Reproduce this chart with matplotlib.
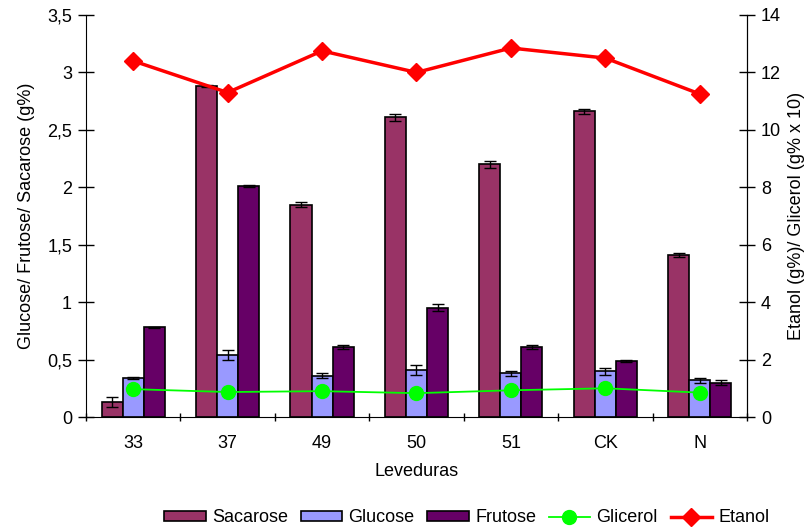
import matplotlib.pyplot as plt
import numpy as np
from matplotlib.ticker import FuncFormatter, MultipleLocator

plt.rcParams['font.family'] = ['Liberation Sans', 'DejaVu Sans']

leveduras = ['33', '37', '49', '50', '51', 'CK', 'N']
sacarose = [0.13, 2.88, 1.85, 2.61, 2.20, 2.66, 1.41]
sacarose_err = [0.04, 0.01, 0.02, 0.03, 0.03, 0.02, 0.02]
glucose = [0.34, 0.54, 0.36, 0.41, 0.38, 0.40, 0.32]
glucose_err = [0.01, 0.04, 0.02, 0.04, 0.02, 0.03, 0.02]
frutose = [0.78, 2.01, 0.61, 0.95, 0.61, 0.49, 0.30]
frutose_err = [0.005, 0.01, 0.02, 0.03, 0.02, 0.01, 0.02]
glicerol = [0.97, 0.87, 0.90, 0.83, 0.93, 1.00, 0.85]
etanol = [12.4, 11.3, 12.75, 12.0, 12.85, 12.5, 11.25]

fig = plt.figure(figsize=(8.09, 5.30), dpi=100)
ax = fig.add_axes([0.1063, 0.2132, 0.817, 0.7585])
ax2 = ax.twinx()

x = np.arange(len(leveduras))
w = 0.223
bars = []
for off, vals, err, col, lab in [(-w, sacarose, sacarose_err, '#993366', 'Sacarose'),
                                 (0, glucose, glucose_err, '#9999FF', 'Glucose'),
                                 (w, frutose, frutose_err, '#660066', 'Frutose')]:
    b = ax.bar(x + off, vals, w, color=col, edgecolor='black', linewidth=1.2,
               yerr=err, capsize=4, error_kw=dict(ecolor='black', elinewidth=1, capthick=1),
               label=lab, zorder=2)
    bars.append(b)

l1, = ax2.plot(x, glicerol, color='#00FF00', lw=1.3, marker='o', ms=10,
               label='Glicerol', zorder=3)
l2, = ax2.plot(x, etanol, color='#FF0000', lw=2.5, marker='D', ms=9,
               label='Etanol', zorder=3)

ax.set_xlim(-0.5, len(leveduras) - 0.5)
ax.set_ylim(0, 3.5)
ax2.set_ylim(0, 14)
ax.yaxis.set_major_locator(MultipleLocator(0.5))
ax.yaxis.set_major_formatter(FuncFormatter(lambda v, p: ('%g' % v).replace('.', ',')))
ax2.yaxis.set_major_locator(MultipleLocator(2))

ax.set_xticks(x)
ax.set_xticklabels(leveduras)
ax.set_xticks(np.arange(-0.5, len(leveduras)), minor=True)
ax.tick_params(axis='x', which='major', length=0, labelsize=13, pad=13)
ax.tick_params(axis='x', which='minor', length=6, direction='inout', width=1)
ax.tick_params(axis='y', labelsize=13, direction='inout', length=12, width=1, pad=4)
ax2.tick_params(axis='y', labelsize=13, direction='inout', length=12, width=1, pad=4)

for a in (ax, ax2):
    a.spines['top'].set_visible(False)
ax2.spines['left'].set_visible(False)
ax2.spines['bottom'].set_visible(False)

ax.set_xlabel('Leveduras', fontsize=13, labelpad=8)
ax.set_ylabel('Glucose/ Frutose/ Sacarose (g%)', fontsize=13, labelpad=9)
ax2.set_ylabel('Etanol (g%)/ Glicerol (g% x 10)', fontsize=13, labelpad=5)

fig.legend(handles=bars + [l1, l2], loc='center', bbox_to_anchor=(0.577, 0.023), ncol=5,
           frameon=False, fontsize=13, handlelength=2.3, handleheight=0.5,
           handletextpad=0.35, columnspacing=0.7, borderaxespad=0)

fig.savefig('out.png', dpi=100)
